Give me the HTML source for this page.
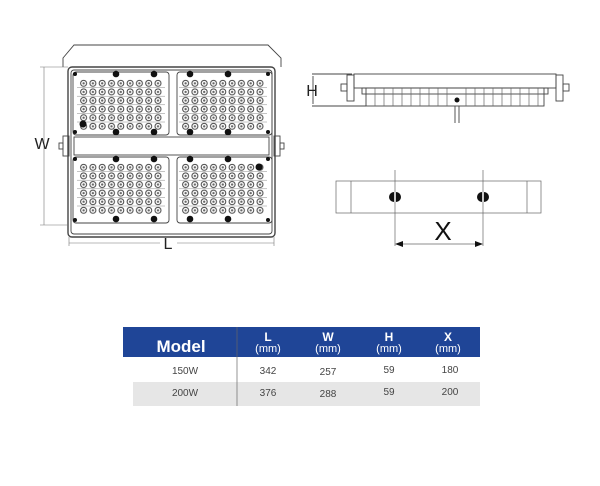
<!DOCTYPE html>
<html><head><style>
body{margin:0;background:#fff;width:600px;height:486px;overflow:hidden;font-family:"Liberation Sans",sans-serif}
svg{position:absolute;left:0;top:0}
</style></head><body>
<svg width="600" height="486" viewBox="0 0 600 486" xmlns="http://www.w3.org/2000/svg">
<defs>
<pattern id="led" x="0" y="0" width="9.3" height="8.6" patternUnits="userSpaceOnUse">
<circle cx="4.6" cy="4.3" r="3" fill="none" stroke="#444" stroke-width="1"/>
<circle cx="4.6" cy="4.3" r="1.2" fill="#666"/>
</pattern>
</defs>
<g fill="none" stroke="#444" stroke-width="0.9">
<polyline points="63,67 63,58 74,45 268,45 281,58 281,67"/>
<rect x="68" y="67" width="207" height="170" rx="4" stroke-width="1.4"/>
<rect x="71" y="70" width="201" height="164" rx="3"/>
<rect x="74" y="137" width="195" height="18"/>
<rect x="73" y="72" width="96" height="63" rx="3"/>
<rect x="177" y="72" width="95" height="63" rx="3"/>
<rect x="73" y="157" width="96" height="66" rx="3"/>
<rect x="177" y="157" width="95" height="66" rx="3"/>
<rect x="63" y="136" width="6" height="20"/><rect x="274" y="136" width="6" height="20"/>
<rect x="59" y="143" width="4" height="6"/><rect x="280" y="143" width="4" height="6"/>
</g>
<g transform="translate(79,79)"><rect width="84" height="52" fill="url(#led)"/></g>
<g transform="translate(181,79)"><rect width="84" height="52" fill="url(#led)"/></g>
<g transform="translate(79,163)"><rect width="84" height="52" fill="url(#led)"/></g>
<g transform="translate(181,163)"><rect width="84" height="52" fill="url(#led)"/></g>
<g stroke="#888" stroke-width="0.5">
<line x1="77" y1="87.6" x2="165" y2="87.6"/><line x1="77" y1="96.2" x2="165" y2="96.2"/><line x1="77" y1="104.8" x2="165" y2="104.8"/><line x1="77" y1="113.4" x2="165" y2="113.4"/><line x1="77" y1="122" x2="165" y2="122"/>
<line x1="179" y1="87.6" x2="267" y2="87.6"/><line x1="179" y1="96.2" x2="267" y2="96.2"/><line x1="179" y1="104.8" x2="267" y2="104.8"/><line x1="179" y1="113.4" x2="267" y2="113.4"/><line x1="179" y1="122" x2="267" y2="122"/>
<line x1="77" y1="171.6" x2="165" y2="171.6"/><line x1="77" y1="180.2" x2="165" y2="180.2"/><line x1="77" y1="188.8" x2="165" y2="188.8"/><line x1="77" y1="197.4" x2="165" y2="197.4"/><line x1="77" y1="206" x2="165" y2="206"/>
<line x1="179" y1="171.6" x2="267" y2="171.6"/><line x1="179" y1="180.2" x2="267" y2="180.2"/><line x1="179" y1="188.8" x2="267" y2="188.8"/><line x1="179" y1="197.4" x2="267" y2="197.4"/><line x1="179" y1="206" x2="267" y2="206"/>
</g>
<g fill="#111">
<circle cx="83" cy="124" r="3.5"/><circle cx="259" cy="167" r="3.5"/>
<circle cx="116" cy="74" r="3.3"/><circle cx="154" cy="74" r="3.3"/><circle cx="190" cy="74" r="3.3"/><circle cx="228" cy="74" r="3.3"/>
<circle cx="116" cy="132" r="3.3"/><circle cx="154" cy="132" r="3.3"/><circle cx="190" cy="132" r="3.3"/><circle cx="228" cy="132" r="3.3"/>
<circle cx="116" cy="159" r="3.3"/><circle cx="154" cy="159" r="3.3"/><circle cx="190" cy="159" r="3.3"/><circle cx="228" cy="159" r="3.3"/>
<circle cx="116" cy="219" r="3.3"/><circle cx="154" cy="219" r="3.3"/><circle cx="190" cy="219" r="3.3"/><circle cx="228" cy="219" r="3.3"/>
<circle cx="75" cy="74" r="2"/><circle cx="268" cy="74" r="2"/><circle cx="75" cy="132" r="2"/><circle cx="268" cy="132" r="2"/>
<circle cx="75" cy="159" r="2"/><circle cx="268" cy="159" r="2"/><circle cx="75" cy="220" r="2"/><circle cx="268" cy="220" r="2"/>
</g>
<g stroke="#777" stroke-width="0.6" fill="none">
<line x1="44" y1="67" x2="44" y2="225"/><line x1="40" y1="67" x2="68" y2="67"/><line x1="40" y1="225" x2="68" y2="225"/>
<line x1="69" y1="243" x2="160" y2="243"/><line x1="177" y1="243" x2="274" y2="243"/>
<line x1="69" y1="237" x2="69" y2="246"/><line x1="274" y1="237" x2="274" y2="246"/>
</g>
<text x="42" y="149" font-size="16" text-anchor="middle" fill="#222">W</text>
<text x="168" y="249" font-size="16" text-anchor="middle" fill="#222">L</text>
<g fill="none" stroke="#444" stroke-width="0.9">
<line x1="312" y1="74" x2="352" y2="74"/><line x1="312" y1="106" x2="366" y2="106"/>
<line x1="313" y1="76" x2="313" y2="104"/>
<rect x="347" y="75" width="7" height="26"/><rect x="556" y="75" width="7" height="26"/>
<rect x="341" y="84" width="6" height="7"/><rect x="563" y="84" width="6" height="7"/>
<rect x="354" y="74" width="202" height="14"/>
<rect x="362" y="88" width="186" height="6"/>
<rect x="366" y="88" width="178" height="18"/>
<line x1="455" y1="106" x2="455" y2="123"/><line x1="459" y1="106" x2="459" y2="123"/>
</g>
<g stroke="#666" stroke-width="0.7">
<line x1="375" y1="88" x2="375" y2="106"/><line x1="384" y1="88" x2="384" y2="106"/><line x1="393" y1="88" x2="393" y2="106"/><line x1="402" y1="88" x2="402" y2="106"/><line x1="411" y1="88" x2="411" y2="106"/><line x1="420" y1="88" x2="420" y2="106"/><line x1="429" y1="88" x2="429" y2="106"/><line x1="438" y1="88" x2="438" y2="106"/><line x1="447" y1="88" x2="447" y2="106"/><line x1="466" y1="88" x2="466" y2="106"/><line x1="475" y1="88" x2="475" y2="106"/><line x1="484" y1="88" x2="484" y2="106"/><line x1="493" y1="88" x2="493" y2="106"/><line x1="502" y1="88" x2="502" y2="106"/><line x1="511" y1="88" x2="511" y2="106"/><line x1="520" y1="88" x2="520" y2="106"/><line x1="529" y1="88" x2="529" y2="106"/><line x1="538" y1="88" x2="538" y2="106"/>
</g>
<circle cx="457" cy="100" r="2.5" fill="#111"/>
<text x="312" y="96" font-size="16" text-anchor="middle" fill="#222">H</text>
<g fill="none" stroke="#666" stroke-width="0.7">
<rect x="336" y="181" width="205" height="32"/>
<line x1="351" y1="181" x2="351" y2="213"/><line x1="527" y1="181" x2="527" y2="213"/>
<line x1="395" y1="170" x2="395" y2="246"/><line x1="483" y1="170" x2="483" y2="246"/>
<line x1="402" y1="244" x2="476" y2="244"/>
</g>
<path d="M395,244 l8,-3 v6z M483,244 l-8,-3 v6z" fill="#111"/>
<g fill="#111">
<path d="M394,192 a5,5 0 0 0 0,10z"/><path d="M396,192 a5,5 0 0 1 0,10z"/>
<path d="M482,192 a5,5 0 0 0 0,10z"/><path d="M484,192 a5,5 0 0 1 0,10z"/>
</g>
<text x="443" y="240" font-size="26" text-anchor="middle" fill="#111">X</text>
<rect x="123" y="327" width="357" height="30" fill="#1f4597"/>
<rect x="133" y="382" width="347" height="24" fill="#e6e6e6"/>
<line x1="237" y1="327" x2="237" y2="406" stroke="#666" stroke-width="0.7"/>
<g fill="#fff" text-anchor="middle">
<text x="181" y="352" font-size="17" font-weight="bold">Model</text>
<text x="268" y="341" font-size="12" font-weight="bold">L</text><text x="268" y="352" font-size="11">(mm)</text>
<text x="328" y="341" font-size="12" font-weight="bold">W</text><text x="328" y="352" font-size="11">(mm)</text>
<text x="389" y="341" font-size="12" font-weight="bold">H</text><text x="389" y="352" font-size="11">(mm)</text>
<text x="448" y="341" font-size="12" font-weight="bold">X</text><text x="448" y="352" font-size="11">(mm)</text>
</g>
<g fill="#444" font-size="10" text-anchor="middle">
<text x="185" y="374">150W</text><text x="268" y="374">342</text><text x="328" y="375">257</text><text x="389" y="373">59</text><text x="450" y="373">180</text>
<text x="185" y="396">200W</text><text x="268" y="396">376</text><text x="328" y="397">288</text><text x="389" y="395">59</text><text x="450" y="395">200</text>
</g>
</svg>
</body></html>
